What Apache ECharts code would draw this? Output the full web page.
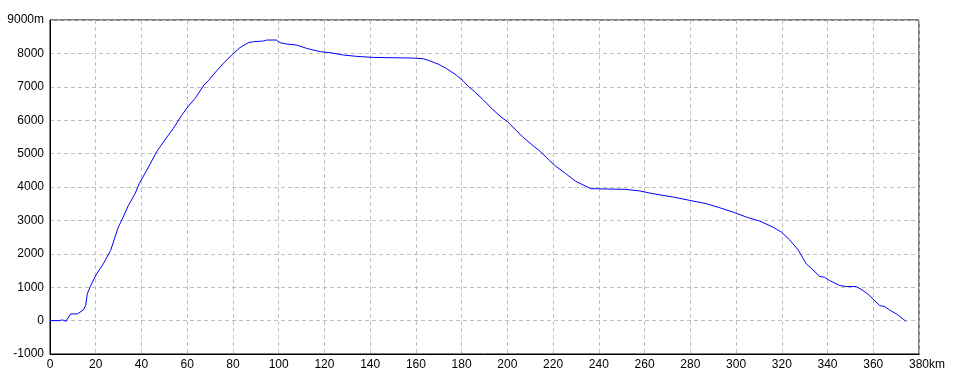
<!DOCTYPE html>
<html>
<head>
<meta charset="utf-8">
<script src="https://cdn.jsdelivr.net/npm/echarts@6/dist/echarts.min.js"></script>
<style>
html,body{margin:0;padding:0;background:#fff;}
#c{width:960px;height:384px;}
</style>
</head>
<body>
<div id="c"></div>
<script>
const distanceKm = [0,4,5.5,7,9,12,14.6,15.6,16.3,17.8,20.4,23.3,26.5,28.4,29.9,32,34.3,37.2,39,42.3,46.6,49.6,53.9,57.6,60.5,63.4,67.3,69.2,72.9,75.8,80.2,83,86.7,88.9,93.3,94.8,99,100.6,103.5,107.9,112.2,118.3,122.6,128.4,134.2,141.4,158.8,163.2,166,169.7,173.3,177.7,180.6,182.8,185.7,189.3,193.6,197.2,200.1,203.8,206.7,211,214.6,218.3,221.2,225.5,229.9,233.5,236.4,251.6,257.6,263.6,272.4,279.7,287,292.8,298.6,304.5,310.3,316.1,319.8,323.4,327.1,330.7,333.6,336.6,338.7,340.9,345.3,348.2,352.6,355.5,358.4,362.8,365,367.1,370.1,373,374.4];
const elevationM = [0,0,20,-20,200,200,320,450,800,1050,1400,1700,2100,2500,2800,3100,3450,3800,4100,4500,5050,5350,5750,6150,6420,6650,7050,7180,7480,7700,8000,8170,8320,8350,8370,8400,8400,8320,8280,8250,8150,8050,8020,7950,7910,7880,7860,7840,7780,7680,7550,7350,7180,7020,6850,6620,6320,6100,5950,5700,5500,5250,5050,4800,4620,4400,4170,4050,3950,3930,3885,3800,3700,3600,3500,3380,3250,3100,2980,2800,2650,2420,2120,1700,1520,1320,1300,1200,1050,1020,1020,900,750,450,420,320,200,50,-30];
const yTopLabel = '9000m';
const xEndUnit = 'km';

const points = distanceKm.map((d, i) => [d, elevationM[i]]);
const font = "'Liberation Sans Narrow','Liberation Sans',sans-serif";

const chart = echarts.init(document.getElementById('c'), null, {renderer: 'canvas'});
chart.setOption({
  animation: false,
  backgroundColor: '#fff',
  grid: {left: 50, right: 41, top: 20, bottom: 30, show: true, borderColor: '#000', borderWidth: 1, backgroundColor: 'transparent'},
  xAxis: {
    type: 'value', min: 0, max: 380, interval: 20,
    name: xEndUnit, nameLocation: 'end', nameGap: 10, nameMoveOverlap: false,
    nameTextStyle: {color: '#000', fontFamily: font, fontSize: 12, verticalAlign: 'top', padding: [5,0,0,0]},
    axisLine: {show: true, onZero: false, lineStyle: {color: '#000', width: 1}},
    axisTick: {show: false},
    axisLabel: {color: '#000', fontFamily: font, fontSize: 12, margin: 5},
    splitLine: {show: true, lineStyle: {color: '#c0c0c0', type: [4,3], width: 1}}
  },
  yAxis: {
    type: 'value', min: -1000, max: 9000, interval: 1000,
    axisLine: {show: true, onZero: false, lineStyle: {color: '#000', width: 1}},
    axisTick: {show: false},
    axisLabel: {color: '#000', fontFamily: font, fontSize: 12, margin: 6,
      formatter: v => v === 9000 ? yTopLabel : String(v)},
    splitLine: {show: true, lineStyle: {color: '#c0c0c0', type: [4,3], width: 1}}
  },
  series: [{
    type: 'line', data: points, showSymbol: false, symbol: 'none',
    lineStyle: {color: '#0000ff', width: 1}, z: 5
  }]
});
</script>
</body>
</html>
